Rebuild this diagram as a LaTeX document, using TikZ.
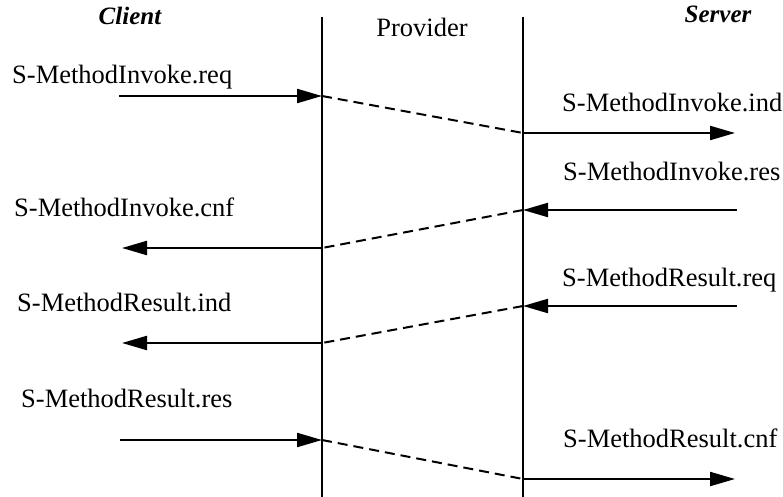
\documentclass[tikz,border=0pt]{standalone}
\usepackage{fontspec}
\setmainfont{Liberation Serif}
\usetikzlibrary{arrows.meta}
\begin{document}
\begin{tikzpicture}[x=1pt,y=-1pt,
  lbl/.style={anchor=base west,inner sep=0pt,font=\fontsize{26.5}{30}\selectfont},
  hdr/.style={anchor=base,inner sep=0pt,font=\fontsize{25}{30}\selectfont\bfseries\itshape},
  prov/.style={anchor=base,inner sep=0pt,font=\fontsize{26.5}{30}\selectfont},
  life/.style={line width=2pt},
  msg/.style={line width=2.2pt,-{Triangle[length=25pt,width=14pt]}},
  relay/.style={line width=2pt,dash pattern=on 10pt off 6pt}]
\useasboundingbox (0,0) rectangle (783,497);
% headers
\node[hdr] (client) at (130,25) {Client};
\node[prov] (provider) at (422,37) {Provider};
\node[hdr] (server) at (718,23) {Server};
% lifelines
\coordinate (pt) at (322,17); \coordinate (pb) at (322,497);
\coordinate (st) at (523,17); \coordinate (sb) at (523,497);
\draw[life] (pt) -- (pb);
\draw[life] (st) -- (sb);
% labels
\node[lbl] (l1) at (12,84) {S-MethodInvoke.req};
\node[lbl] (l2) at (562,112) {S-MethodInvoke.ind};
\node[lbl] (l3) at (563,180) {S-MethodInvoke.res};
\node[lbl] (l4) at (14,216) {S-MethodInvoke.cnf};
\node[lbl] (l5) at (562,286) {S-MethodResult.req};
\node[lbl] (l6) at (17,311) {S-MethodResult.ind};
\node[lbl] (l7) at (21,407) {S-MethodResult.res};
\node[lbl] (l8) at (563,447) {S-MethodResult.cnf};
% points
\coordinate (a1) at (119,96);  \coordinate (p1) at (322,96);
\coordinate (s1) at (523,133); \coordinate (b1) at (735,133);
\coordinate (b2) at (737,210); \coordinate (s2) at (523,210);
\coordinate (p2) at (322,248); \coordinate (a2) at (122,248);
\coordinate (b3) at (737,306); \coordinate (s3) at (523,306);
\coordinate (p3) at (322,343); \coordinate (a3) at (122,343);
\coordinate (a4) at (120,440); \coordinate (p4) at (322,440);
\coordinate (s4) at (523,479); \coordinate (b4) at (735,479);
% messages
\draw[msg] (a1) -- (p1);
\draw[relay] (p1) -- (s1);
\draw[msg] (s1) -- (b1);
\draw[msg] (b2) -- (s2);
\draw[relay] (s2) -- (p2);
\draw[msg] (p2) -- (a2);
\draw[msg] (b3) -- (s3);
\draw[relay] (s3) -- (p3);
\draw[msg] (p3) -- (a3);
\draw[msg] (a4) -- (p4);
\draw[relay] (p4) -- (s4);
\draw[msg] (s4) -- (b4);
\end{tikzpicture}
\end{document}
